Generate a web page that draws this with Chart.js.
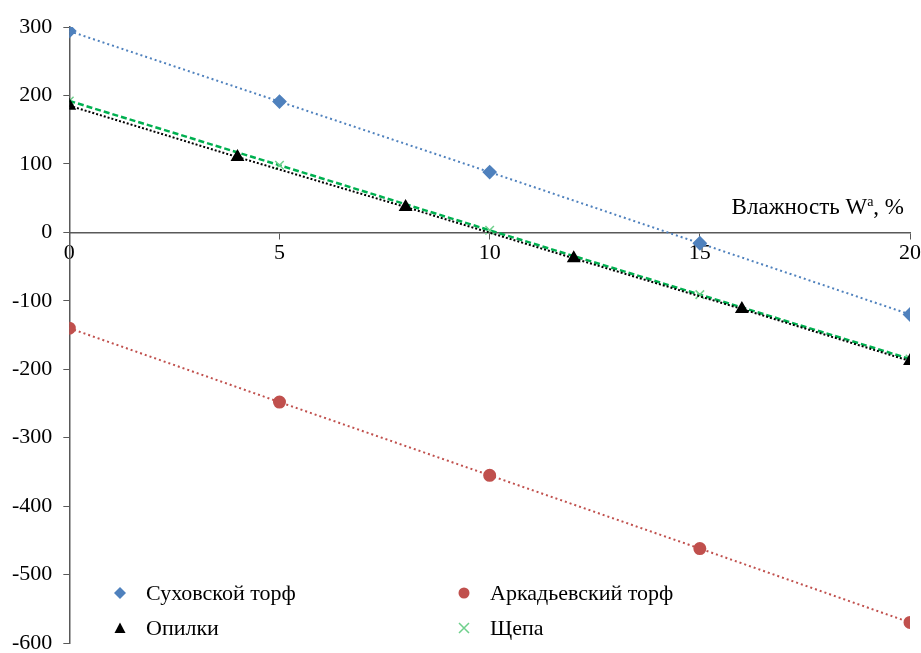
<!DOCTYPE html>
<html lang="ru">
<head>
    <meta charset="UTF-8">
    <title>Влажность</title>
    <script src="https://cdn.jsdelivr.net/npm/chart.js"></script>
    <style>
        body { margin: 0; background: #fff; }
        #wrap { position: relative; width: 921px; height: 653px; }
        #legend {
            position: absolute; left: 112px; top: 580px;
            display: grid; grid-template-columns: 344px 260px; row-gap: 9px;
            font-family: "Liberation Serif", serif; font-size: 22px; line-height: 26px; color: #000;
        }
        #legend div { display: flex; align-items: center; }
        #legend svg { width: 16px; height: 16px; margin-right: 18px; }
    </style>
</head>
<body>
<div id="wrap">
    <canvas id="myChart" width="921" height="653"></canvas>
    <div id="legend"></div>
</div>
<script>
    // данные
    const sukhX = [0, 5, 10, 15, 20];
    const sukhY = [294, 191, 88, -16, -120];
    const arkX = [0, 5, 10, 15, 20];
    const arkY = [-140, -248, -355, -462, -570];
    const opilX = [0, 4, 8, 12, 16, 20];
    const opilY = [185, 110, 37, -38, -112, -188];
    const shchX = [0, 5, 10, 15, 20];
    const shchY = [192, 98, 3, -91, -185];
    const seriesNames = ['Суховской торф', 'Аркадьевский торф', 'Опилки', 'Щепа'];
    const xTicks = [0, 5, 10, 15, 20];
    const yTicks = [300, 200, 100, 0, -100, -200, -300, -400, -500, -600];

    const pts = (xs, ys) => xs.map((x, i) => ({ x: x, y: ys[i] }));
    const font = { family: 'Liberation Serif', size: 22 };

    // подпись оси X над осью справа
    const axisTitle = {
        id: 'axisTitle',
        afterDraw(chart) {
            const c = chart.ctx;
            const x = chart.scales.x.getPixelForValue(20) - 6;
            const y = chart.scales.y.getPixelForValue(0) - 18;
            const big = '23px "Liberation Serif"', small = '14px "Liberation Serif"';
            const p1 = 'Влажность W', p3 = ', %';
            c.save();
            c.fillStyle = '#000';
            c.textBaseline = 'alphabetic';
            c.font = big;
            const w1 = c.measureText(p1).width, w3 = c.measureText(p3).width;
            c.font = small;
            const w2 = c.measureText('a').width;
            const sx = x - w1 - w2 - w3;
            c.font = big;
            c.fillText(p1, sx, y);
            c.font = small;
            c.fillText('a', sx + w1, y - 8);
            c.font = big;
            c.fillText(p3, sx + w1 + w2, y);
            c.restore();
        }
    };

    const ctx = document.getElementById('myChart').getContext('2d');
    const myChart = new Chart(ctx, {
        type: 'scatter',
        data: {
            datasets: [{
                label: seriesNames[0],
                data: pts(sukhX, sukhY),
                pointStyle: 'rectRot', pointRadius: 6,
                backgroundColor: '#4F81BD', borderColor: '#4F81BD',
                showLine: true, borderWidth: 2, borderDash: [2, 3]
            }, {
                label: seriesNames[1],
                data: pts(arkX, arkY),
                pointStyle: 'circle', pointRadius: 5.5,
                backgroundColor: '#C0504D', borderColor: '#C0504D',
                showLine: true, borderWidth: 2, borderDash: [2, 3]
            }, {
                label: seriesNames[2],
                data: pts(opilX, opilY),
                pointStyle: 'triangle', pointRadius: 6,
                backgroundColor: '#000', borderColor: '#000',
                showLine: true, borderWidth: 2, borderDash: [2, 2]
            }, {
                label: seriesNames[3],
                data: pts(shchX, shchY),
                pointStyle: 'crossRot', pointRadius: 6,
                backgroundColor: '#00B050', borderColor: '#00B050',
                pointBorderColor: '#6FD08C', pointBorderWidth: 1.5,
                showLine: true, borderWidth: 2.5, borderDash: [6, 3]
            }]
        },
        options: {
            responsive: false,
            animation: false,
            layout: { padding: { top: 27, right: 11, bottom: 10, left: 1 } },
            plugins: { legend: { display: false }, tooltip: { enabled: false } },
            scales: {
                x: {
                    type: 'linear', position: { y: 0 },
                    min: 0, max: 20,
                    afterBuildTicks: s => { s.ticks = xTicks.map(v => ({ value: v })); },
                    afterFit: s => { s.paddingLeft = 0; s.paddingRight = 0; },
                    grid: { drawOnChartArea: false, drawTicks: true, tickLength: 6, color: '#595959' },
                    border: { color: '#595959', width: 1.5 },
                    ticks: { color: '#000', font: font, padding: 2 }
                },
                y: {
                    type: 'linear', min: -600, max: 300,
                    afterBuildTicks: s => { s.ticks = yTicks.map(v => ({ value: v })); },
                    afterFit: s => { s.paddingTop = 0; s.paddingBottom = 0; },
                    grid: { drawOnChartArea: false, drawTicks: true, tickLength: 6, color: '#595959' },
                    border: { color: '#595959', width: 1.5 },
                    ticks: { color: '#000', font: font, padding: 11 }
                }
            }
        },
        plugins: [axisTitle]
    });

    // легенда внизу в две колонки
    const markSvg = [
        '<polygon points="8,2 14,8 8,14 2,8" fill="#4F81BD"/>',
        '<circle cx="8" cy="8" r="5.5" fill="#C0504D"/>',
        '<polygon points="8,2.5 13.5,13 2.5,13" fill="#000"/>',
        '<path d="M3,3 L13,13 M13,3 L3,13" stroke="#6FD08C" stroke-width="1.5"/>'
    ];
    document.getElementById('legend').innerHTML = seriesNames.map((name, i) =>
        '<div><svg viewBox="0 0 16 16">' + markSvg[i] + '</svg>' + name + '</div>'
    ).join('');
</script>
</body>
</html>
